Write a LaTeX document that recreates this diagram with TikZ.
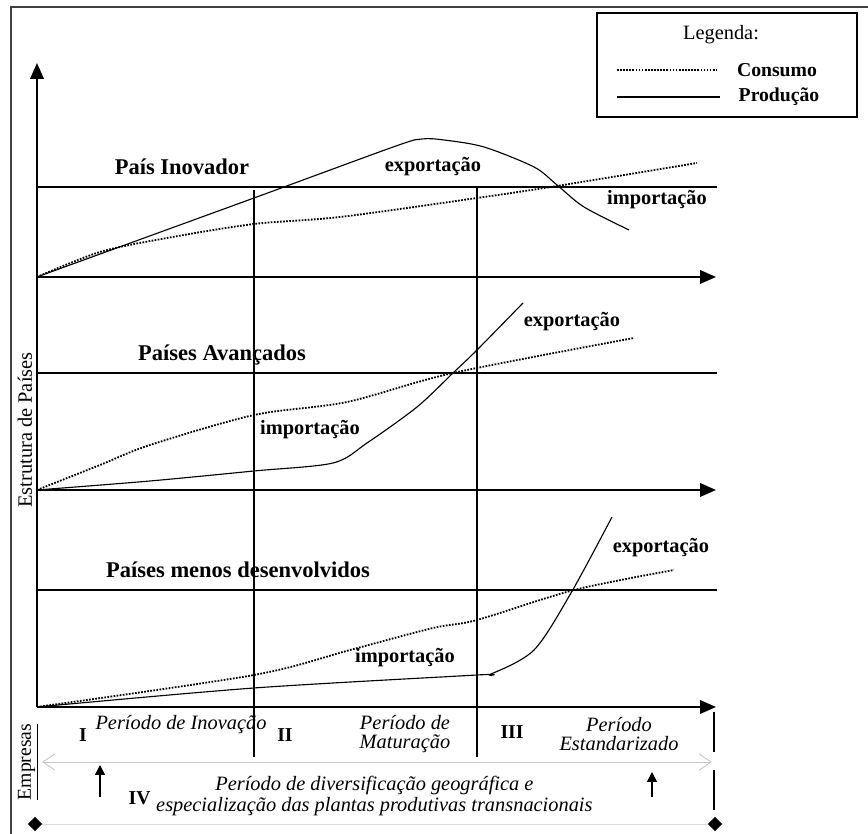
\documentclass[tikz,border=0pt]{standalone}
\usepackage{fontspec}
\setmainfont{Liberation Serif}
\usetikzlibrary{arrows.meta,shapes.geometric}

\tikzset{
	axisline/.style={line width=1.3pt,-{Triangle[length=0.4cm,width=0.34cm]}},
	levelline/.style={line width=0.9pt},
	prod/.style={line width=0.8pt},
	cons/.style={line width=1.3pt,dash pattern=on 1.2pt off 1pt},
	region/.style={font=\fontsize{16}{18}\selectfont\bfseries},
	trade/.style={font=\fontsize{14.5}{16}\selectfont\bfseries},
	phase/.style={font=\fontsize{14.5}{13}\selectfont\itshape,align=center},
	roman/.style={font=\fontsize{14}{16}\selectfont\bfseries},
	endmark/.style={diamond,fill,inner sep=0pt,minimum size=0.36cm}
}

\begin{document}
\begin{tikzpicture}[scale=1]
	\useasboundingbox (0,0) rectangle (21.7,20.85);

	% frame
	\draw[line width=1.1pt,black!75] (0.275,0) -- (0.275,20.675) -- (21.7,20.675);

	% legend
	\draw[line width=1pt] (14.925,17.925) rectangle (21.425,20.525);
	\draw (18.025,19.975) node (leg) {\fontsize{14.5}{16}\selectfont Legenda:};
	\draw[cons] (15.425,19.1) -- (17.925,19.1);
	\draw (19.425,19.1) node (legcons) {\fontsize{14}{16}\selectfont\bfseries Consumo};
	\draw[line width=1.2pt] (15.425,18.425) -- (18,18.425);
	\draw (19.475,18.425) node (legprod) {\fontsize{14}{16}\selectfont\bfseries Produção};

	% axes
	\draw[axisline] (0.925,3.175) -- (0.925,19.275);
	\draw[axisline] (0.925,13.925) -- (17.9,13.925);
	\draw[axisline] (0.925,8.6) -- (17.9,8.6);
	\draw[axisline] (0.925,3.175) -- (17.9,3.175);

	% levels
	\draw[levelline] (0.925,16.175) -- (17.925,16.175);
	\draw[levelline] (0.925,11.525) -- (17.925,11.525);
	\draw[levelline] (0.925,6.1) -- (17.925,6.1);

	% periods
	\draw[line width=0.8pt] (6.35,16.1) -- (6.35,1.925);
	\draw[line width=0.8pt] (11.925,16.175) -- (11.925,1.925);

	% pais inovador
	\draw[prod] plot [smooth] coordinates {
	(0.925,13.925)
	(6.35,15.9)
	(9.9,17.2)
	(10.55,17.375)
	(11.1,17.35)
	(12.1,17.175)
	(13.35,16.675)
	(13.925,16.225)
	(14.6,15.675)
	(15.725,15.1)};
	\draw[cons] plot [smooth] coordinates {
	(0.925,13.925)
	(2.5,14.55)
	(4.175,14.9)
	(6.35,15.25)
	(8.5,15.425)
	(11.925,15.9)
	(13.925,16.2)
	(17.425,16.775)};

	% paises avancados
	\draw[prod] plot [smooth] coordinates {
	(0.925,8.6)
	(3.75,8.825)
	(6.35,9.075)
	(8.325,9.275)
	(9.175,9.775)
	(10.425,10.675)
	(11.325,11.525)
	(11.925,12.1)
	(13.075,13.275)};
	\draw[cons] plot [smooth] coordinates {
	(0.925,8.6)
	(2.5,9.225)
	(3.75,9.725)
	(6.35,10.475)
	(8.675,10.8)
	(11.325,11.525)
	(15.85,12.4)};

	% paises menos desenvolvidos
	\draw[prod] plot [smooth] coordinates {
	(0.925,3.175)
	(6.35,3.65)
	(11.925,3.975)
	(12.275,4.0)
	(13.35,4.6)
	(14.275,6.025)
	(15.3,7.925)};
	\draw[cons] plot [smooth] coordinates {
	(0.925,3.175)
	(6.35,3.975)
	(8.75,4.6)
	(10.825,5.15)
	(11.925,5.35)
	(14.35,6.1)
	(16.85,6.6)};

	% labels
	\draw (4.55,16.675) node[region] (inov) {País Inovador};
	\draw (10.825,16.675) node[trade] (expinov) {exportação};
	\draw (16.425,15.85) node[trade] (impinov) {importação};
	\draw (5.55,11.975) node[region] (avan) {Países Avançados};
	\draw (7.75,10.1) node[trade] (impavan) {importação};
	\draw (14.3,12.8) node[trade] (expavan) {exportação};
	\draw (5.95,6.6) node[region] (menos) {Países menos desenvolvidos};
	\draw (10.125,4.4) node[trade] (impmenos) {importação};
	\draw (16.525,7.15) node[trade] (expmenos) {exportação};
	\draw (0.62,10.1) node[rotate=90] (estr) {\fontsize{14.5}{16}\selectfont Estrutura de Países};

	% empresas
	\draw (0.7,1.8) node[rotate=90] (empr) {\fontsize{14}{16}\selectfont\underline{Empresas}};
	\draw (2.075,2.475) node[roman] (pI) {I};
	\draw (4.525,2.725) node[phase] (inovacao) {Período de Inovação};
	\draw (7.125,2.475) node[roman] (pII) {II};
	\draw (10.125,2.5) node[phase] (maturacao) {Período de\\Maturação};
	\draw (12.8,2.55) node[roman] (pIII) {III};
	\draw (15.475,2.5) node[phase] (estand) {Período\\Estandarizado};
	\draw (3.49,0.9) node[roman] (pIV) {IV};
	\draw (9.36,0.95) node[phase,font=\fontsize{14.5}{15.6}\selectfont\itshape] (divers) {Período de diversificação geográfica e\\especialização das plantas produtivas transnacionais};

	\draw[gray!45,line width=0.6pt,{Straight Barb[length=0.3cm,width=0.4cm]}-{Straight Barb[length=0.3cm,width=0.4cm]}] (1.05,1.8) -- (17.8,1.8);
	\draw[line width=1pt,-{Triangle[length=0.25cm,width=0.25cm]}] (2.5,0.925) -- (2.5,1.725);
	\draw[line width=1pt,-{Triangle[length=0.25cm,width=0.25cm]}] (16.3,0.925) -- (16.3,1.55);
	\draw[line width=1pt] (17.85,3.05) -- (17.85,2.05);
	\draw[line width=1pt] (17.85,1.6) -- (17.85,0.6);

	\node[endmark] (endl) at (0.875,0.25) {};
	\node[endmark] (endr) at (17.875,0.25) {};
	\draw[gray!30,line width=0.6pt] (endl) -- (endr);

\end{tikzpicture}
\end{document}
